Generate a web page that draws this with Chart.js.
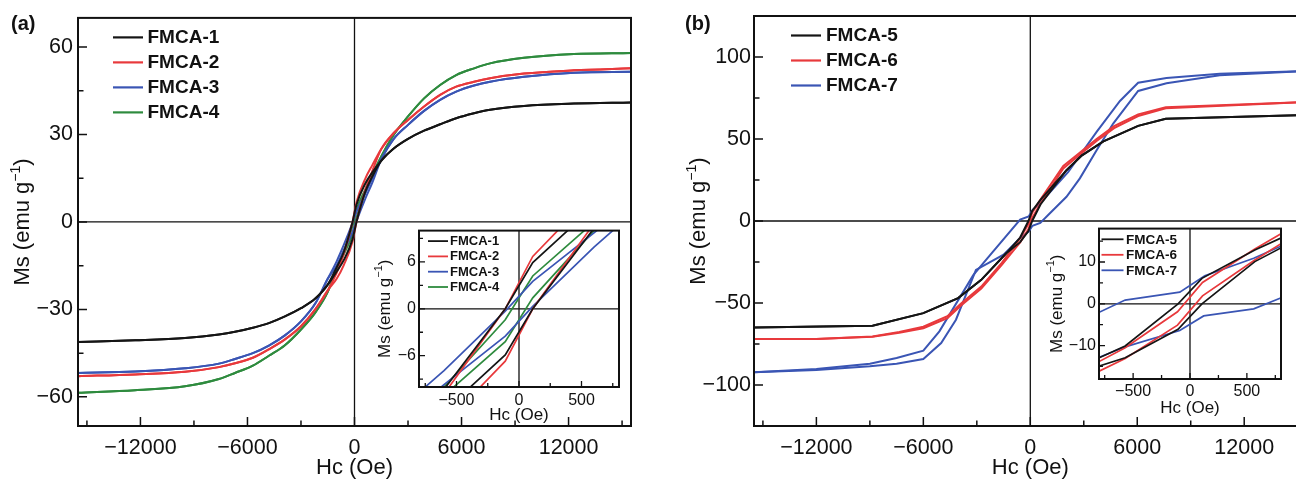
<!DOCTYPE html>
<html>
<head>
<meta charset="utf-8">
<title>Magnetic hysteresis loops of FMCA samples</title>
<script src="https://cdn.jsdelivr.net/npm/chart.js@4.4.1/dist/chart.umd.min.js"></script>
<style>
  html, body { margin: 0; padding: 0; background: #fff; width: 1296px; height: 482px; overflow: hidden; }
  canvas { position: absolute; }
</style>
</head>
<body>
<canvas id="mainA" width="648" height="482" style="left:0;top:0"></canvas>
<canvas id="mainB" width="670" height="482" style="left:648px;top:0"></canvas>
<canvas id="insetA" width="270" height="215" style="left:360px;top:218px"></canvas>
<canvas id="insetB" width="256" height="215" style="left:1040px;top:216px"></canvas>
<script>
// ---------- Panel (a): FMCA-1 … FMCA-4 (field in Oe, magnetisation in emu/g) ----------
const namesA = ['FMCA-1', 'FMCA-2', 'FMCA-3', 'FMCA-4'];
const fieldA = [-15500, -12300, -9500, -7600, -6700, -5700, -4800, -3900, -3000, -2200, -1500, -1000, -600, -110,
                110, 600, 1000, 1500, 2200, 3000, 3900, 4800, 5700, 6700, 7600, 9500, 12300, 15500];

// descending-field branch (upper) and ascending-field branch (lower) of each loop
const fmca1Desc = [-41.2, -40.6, -39.8, -38.6, -37.7, -36.3, -34.7, -32.4, -29.6, -26.3, -21.5, -15.6, -10.3, 0.0,
                   5.9, 13.1, 17.0, 21.0, 25.2, 28.5, 31.3, 33.5, 35.6, 37.3, 38.5, 39.8, 40.6, 41.0];
const fmca1Asc  = [-41.2, -40.6, -39.8, -38.6, -37.7, -36.3, -34.7, -32.4, -29.6, -26.3, -21.5, -17.0, -13.1, -5.9,
                   0.0, 10.3, 15.6, 21.0, 25.2, 28.5, 31.3, 33.5, 35.6, 37.3, 38.5, 39.8, 40.6, 41.0];
const fmca2Desc = [-52.9, -52.3, -51.4, -49.8, -48.5, -46.6, -43.7, -40.3, -35.8, -30.0, -23.5, -17.5, -10.9, 0.0,
                   6.7, 14.8, 19.5, 25.0, 30.5, 35.0, 39.6, 43.6, 46.4, 48.1, 49.3, 50.9, 52.0, 52.7];
const fmca2Asc  = [-52.9, -52.3, -51.4, -49.8, -48.5, -46.6, -43.7, -40.3, -35.8, -30.0, -23.5, -19.5, -14.8, -6.7,
                   0.0, 10.9, 17.5, 25.0, 30.5, 35.0, 39.6, 43.6, 46.4, 48.1, 49.3, 50.9, 52.0, 52.7];
const fmca3Desc = [-51.8, -51.3, -50.2, -48.6, -47.0, -45.0, -42.4, -38.9, -34.1, -28.0, -19.5, -13.5, -7.9, -0.3,
                   3.5, 9.7, 15.0, 21.5, 28.5, 33.3, 38.1, 41.9, 44.7, 46.8, 48.1, 49.8, 51.2, 51.5];
const fmca3Asc  = [-51.8, -51.3, -50.2, -48.6, -47.0, -45.0, -42.4, -38.9, -34.1, -28.0, -19.5, -15.0, -9.7, -3.5,
                   0.3, 7.9, 13.5, 21.5, 28.5, 33.3, 38.1, 41.9, 44.7, 46.8, 48.1, 49.8, 51.2, 51.5];
const fmca4Desc = [-58.6, -57.7, -56.4, -53.9, -51.8, -49.3, -45.9, -42.3, -36.9, -31.1, -24.0, -15.5, -10.0, -1.4,
                   4.2, 11.1, 16.5, 22.5, 29.9, 36.2, 42.4, 47.0, 50.4, 52.7, 54.4, 56.3, 57.6, 58.0];
const fmca4Asc  = [-58.6, -57.7, -56.4, -53.9, -51.8, -49.3, -45.9, -42.3, -36.9, -31.1, -24.0, -16.5, -11.1, -4.2,
                   1.4, 10.0, 15.5, 22.5, 29.9, 36.2, 42.4, 47.0, 50.4, 52.7, 54.4, 56.3, 57.6, 58.0];

// ---------- Panel (b): FMCA-5 … FMCA-7 ----------
const namesB = ['FMCA-5', 'FMCA-6', 'FMCA-7'];
const fmca5Field = [-15500, -8850, -6000, -4050, -2750, -1350, -570, -105, 105, 570, 2030, 2900, 4100, 6050, 7600, 15500];
const fmca5Desc  = [-65.0, -63.9, -56.2, -47.0, -35.9, -19.7, -10.1, 0.0, 6.1, 12.9, 31.0, 40.0, 48.5, 58.0, 62.4, 64.6];
const fmca5Asc   = [-65.0, -63.9, -56.2, -47.0, -35.9, -19.7, -12.9, -6.1, 0.0, 10.1, 31.0, 40.0, 48.5, 58.0, 62.4, 64.6];

const fmca6Field = [-15500, -12000, -8850, -7350, -6000, -4650, -3900, -2750, -1600, -570, -110, 110, 570, 1850,
                    2650, 3700, 4700, 6050, 7600, 15500];
const fmca6Desc  = [-72.0, -72.0, -70.4, -67.6, -64.5, -58.0, -50.5, -40.0, -25.5, -10.5, -1.9, 5.1, 13.1, 33.5,
                    40.5, 49.8, 57.8, 65.0, 69.3, 72.6];
const fmca6Asc   = [-72.0, -72.0, -70.6, -68.2, -65.4, -59.2, -51.7, -41.2, -26.7, -13.1, -5.1, 1.9, 10.5, 32.0,
                    39.3, 48.6, 56.6, 64.0, 68.7, 72.6];

const fmca7DescField = [-15500, -12000, -9000, -7500, -6000, -5100, -3200, -2400, -570, -90, 130, 560, 2130, 3720,
                        5030, 6050, 7640, 10630, 15500];
const fmca7Desc      = [-92.3, -90.3, -87.0, -83.5, -79.1, -67.3, -33.0, -22.7, 0.9, 2.8, 6.7, 10.9, 30.0, 54.3,
                        73.2, 84.3, 87.2, 89.8, 91.4];
const fmca7AscField  = [-15500, -12000, -9000, -7500, -6000, -5000, -4170, -3050, -1500, -570, -90, 120, 560, 1100,
                        2030, 2780, 3720, 4650, 6050, 7640, 10630, 15500];
const fmca7Asc       = [-92.3, -90.8, -88.6, -87.0, -84.2, -74.4, -60.2, -29.8, -20.5, -10.3, -6.4, -2.9, -1.2, 4.7,
                        14.8, 26.0, 43.2, 59.4, 79.3, 84.0, 88.8, 91.4];

// ---------- axis ticks ----------
const mainFieldTicks  = [-12000, -6000, 0, 6000, 12000];
const mainFieldMinor  = [-15000, -9000, -3000, 3000, 9000, 15000];
const panelAMsTicks   = [-60, -30, 0, 30, 60];
const panelAMsMinor   = [-45, -15, 15, 45];
const panelBMsTicks   = [-100, -50, 0, 50, 100];
const panelBMsMinor   = [-125, -75, -25, 25, 75, 125];
const insetFieldTicks = [-500, 0, 500];
const insetFieldMinor = [-750, -250, 250, 750];
const insetAMsTicks   = [-6, 0, 6];
const insetAMsMinor   = [-9, -3, 3, 9];
const insetBMsTicks   = [-10, 0, 10];
const insetBMsMinor   = [-15, -5, 5, 15];

// ---------- styling ----------
const INK = '#111111';
const FONT = '"Liberation Sans", Arial, Helvetica, sans-serif';
const coloursA = ['#151515', '#e8393c', '#3a55b4', '#2e8b3e'];
const coloursB = ['#151515', '#e8393c', '#3a55b4'];

Chart.defaults.font.family = FONT;
Chart.defaults.color = INK;

const pairs = (field, values) => field.map((h, i) => ({ x: h, y: values[i] }));
const signed = v => (v < 0 ? '\u2212' + Math.abs(v) : String(v));

function loopDatasets(names, colours, branches, width, smooth) {
  const sets = [];
  branches.forEach((b, i) => {
    [b[0], b[1]].forEach(data => {
      sets.push({
        label: names[i],
        data: data,
        showLine: true,
        borderColor: colours[i],
        backgroundColor: colours[i],
        borderWidth: width,
        pointRadius: 0,
        fill: false,
        tension: smooth ? 0.4 : 0,
        cubicInterpolationMode: smooth ? 'monotone' : 'default'
      });
    });
  });
  return sets;
}

function drawYTitle(ctx, cx, cy, size) {
  const head = 'Ms (emu g', sup = '\u22121', tail = ')';
  const supSize = size * 0.64;
  ctx.save();
  ctx.font = size + 'px ' + FONT;
  const w1 = ctx.measureText(head).width;
  const w3 = ctx.measureText(tail).width;
  ctx.font = supSize + 'px ' + FONT;
  const w2 = ctx.measureText(sup).width;
  const total = w1 + w2 + w3;
  ctx.translate(cx, cy);
  ctx.rotate(-Math.PI / 2);
  ctx.fillStyle = INK;
  ctx.textAlign = 'left';
  ctx.textBaseline = 'alphabetic';
  const base = 0.36 * size;
  let x = -total / 2;
  ctx.font = size + 'px ' + FONT;
  ctx.fillText(head, x, base);
  x += w1;
  ctx.font = supSize + 'px ' + FONT;
  ctx.fillText(sup, x, base - 0.42 * size);
  x += w2;
  ctx.font = size + 'px ' + FONT;
  ctx.fillText(tail, x, base);
  ctx.restore();
}

// frame, zero lines, inward ticks, axis titles, legend and panel tag
function decorations(spec) {
  return {
    id: 'decor_' + spec.key,
    beforeDatasetsDraw(chart) {
      const { ctx, chartArea: a, scales: { x, y } } = chart;
      ctx.save();
      if (spec.whiteArea) {
        ctx.fillStyle = '#ffffff';
        ctx.fillRect(a.left, a.top, a.right - a.left, a.bottom - a.top);
      }
      ctx.strokeStyle = INK;
      ctx.lineWidth = spec.zeroWidth;
      const x0 = x.getPixelForValue(0), y0 = y.getPixelForValue(0);
      ctx.beginPath();
      ctx.moveTo(x0, a.top); ctx.lineTo(x0, a.bottom);
      ctx.moveTo(a.left, y0); ctx.lineTo(a.right, y0);
      ctx.stroke();
      ctx.restore();
    },
    afterDatasetsDraw(chart) {
      const { ctx, chartArea: a, scales: { x, y } } = chart;
      ctx.save();
      ctx.strokeStyle = INK;
      ctx.lineWidth = spec.tickWidth;
      ctx.beginPath();
      spec.xMajor.forEach(v => { const p = x.getPixelForValue(v); ctx.moveTo(p, a.bottom); ctx.lineTo(p, a.bottom - spec.majorLen); });
      spec.xMinor.forEach(v => { const p = x.getPixelForValue(v); ctx.moveTo(p, a.bottom); ctx.lineTo(p, a.bottom - spec.minorLen); });
      spec.yMajor.forEach(v => { const p = y.getPixelForValue(v); ctx.moveTo(a.left, p); ctx.lineTo(a.left + spec.majorLen, p); });
      spec.yMinor.forEach(v => { const p = y.getPixelForValue(v); ctx.moveTo(a.left, p); ctx.lineTo(a.left + spec.minorLen, p); });
      ctx.stroke();
      ctx.lineWidth = spec.frameWidth;
      ctx.strokeRect(a.left, a.top, a.right - a.left, a.bottom - a.top);

      // axis titles
      ctx.fillStyle = INK;
      ctx.font = spec.titleSize + 'px ' + FONT;
      ctx.textAlign = 'center';
      ctx.textBaseline = 'middle';
      ctx.fillText('Hc (Oe)', (a.left + a.right) / 2, spec.xTitleY);
      drawYTitle(ctx, a.left - spec.yTitleOffset, (a.top + a.bottom) / 2, spec.titleSize);

      // legend
      const lg = spec.legend;
      ctx.font = 'bold ' + lg.size + 'px ' + FONT;
      ctx.textAlign = 'left';
      lg.names.forEach((n, i) => {
        const yy = a.top + lg.top + i * lg.step;
        ctx.strokeStyle = lg.colours[i];
        ctx.lineWidth = lg.lineWidth;
        ctx.beginPath();
        ctx.moveTo(a.left + lg.x0, yy);
        ctx.lineTo(a.left + lg.x1, yy);
        ctx.stroke();
        ctx.fillStyle = INK;
        ctx.fillText(n, a.left + lg.tx, yy + 0.5);
      });

      if (spec.tag) {
        ctx.font = 'bold 20px ' + FONT;
        ctx.textBaseline = 'alphabetic';
        ctx.fillStyle = INK;
        ctx.fillText(spec.tag.text, spec.tag.x, spec.tag.y);
      }
      ctx.restore();
    }
  };
}

function makeChart(id, cfg) {
  const fix = (values) => (scale) => { scale.ticks = values.map(v => ({ value: v })); };
  return new Chart(document.getElementById(id), {
    type: 'scatter',
    data: { datasets: cfg.datasets },
    options: {
      responsive: false,
      animation: false,
      events: [],
      layout: { autoPadding: false, padding: cfg.padding },
      plugins: { legend: { display: false }, tooltip: { enabled: false } },
      scales: {
        x: {
          type: 'linear', min: cfg.xMin, max: cfg.xMax,
          afterBuildTicks: fix(cfg.xTicks),
          afterFit: (s) => { s.height = cfg.xHeight; },
          grid: { display: false, drawTicks: false },
          border: { display: false },
          ticks: { autoSkip: false, maxRotation: 0, padding: cfg.xPad, font: { size: cfg.tickSize }, color: INK, callback: signed }
        },
        y: {
          type: 'linear', min: cfg.yMin, max: cfg.yMax,
          afterBuildTicks: fix(cfg.yTicks),
          afterFit: (s) => { s.width = cfg.yWidth; },
          grid: { display: false, drawTicks: false },
          border: { display: false },
          ticks: { autoSkip: false, padding: cfg.yPad, font: { size: cfg.tickSize }, color: INK, callback: signed }
        }
      }
    },
    plugins: [decorations(cfg.decor)]
  });
}

const branchesA = () => [
  [pairs(fieldA, fmca1Desc), pairs(fieldA, fmca1Asc)],
  [pairs(fieldA, fmca2Desc), pairs(fieldA, fmca2Asc)],
  [pairs(fieldA, fmca3Desc), pairs(fieldA, fmca3Asc)],
  [pairs(fieldA, fmca4Desc), pairs(fieldA, fmca4Asc)]
];
const branchesB = () => [
  [pairs(fmca5Field, fmca5Desc), pairs(fmca5Field, fmca5Asc)],
  [pairs(fmca6Field, fmca6Desc), pairs(fmca6Field, fmca6Asc)],
  [pairs(fmca7DescField, fmca7Desc), pairs(fmca7AscField, fmca7Asc)]
];

// (a) main panel
makeChart('mainA', {
  datasets: loopDatasets(namesA, coloursA, branchesA(), 2, true),
  padding: { left: 0, right: 17, top: 16, bottom: 0 },
  xMin: -15500, xMax: 15500, yMin: -70, yMax: 70,
  xTicks: mainFieldTicks, yTicks: panelAMsTicks,
  xHeight: 56, yWidth: 78, xPad: 9, yPad: 5, tickSize: 21.5,
  decor: {
    key: 'mainA', zeroWidth: 1.3, tickWidth: 1.5, frameWidth: 2, majorLen: 9, minorLen: 5.5,
    xMajor: mainFieldTicks, xMinor: mainFieldMinor, yMajor: panelAMsTicks, yMinor: panelAMsMinor,
    titleSize: 22, xTitleY: 468, yTitleOffset: 56.5,
    legend: { names: namesA, colours: coloursA, size: 19, top: 19.5, step: 25, x0: 35, x1: 65, tx: 69.5, lineWidth: 2.2 },
    tag: { text: '(a)', x: 11, y: 30 }
  }
});

// (b) main panel
makeChart('mainB', {
  datasets: loopDatasets(namesB, coloursB, branchesB(), 2, false),
  padding: { left: 0, right: 11.4, top: 16, bottom: 0 },
  xMin: -15500, xMax: 15500, yMin: -125, yMax: 125,
  xTicks: mainFieldTicks, yTicks: panelBMsTicks,
  xHeight: 56, yWidth: 106, xPad: 9, yPad: 3, tickSize: 21.5,
  decor: {
    key: 'mainB', zeroWidth: 1.3, tickWidth: 1.5, frameWidth: 2, majorLen: 9, minorLen: 5.5,
    xMajor: mainFieldTicks, xMinor: mainFieldMinor, yMajor: panelBMsTicks, yMinor: panelBMsMinor,
    titleSize: 22, xTitleY: 468, yTitleOffset: 57,
    legend: { names: namesB, colours: coloursB, size: 19, top: 19.5, step: 25, x0: 37, x1: 67, tx: 72, lineWidth: 2.2 },
    tag: { text: '(b)', x: 37, y: 30 }
  }
});

// (a) inset: low-field region of the loops
makeChart('insetA', {
  datasets: loopDatasets(namesA, coloursA, branchesA(), 1.7, false),
  padding: { left: 0, right: 11, top: 9, bottom: 0 },
  xMin: -800, xMax: 800, yMin: -10, yMax: 10,
  xTicks: insetFieldTicks, yTicks: insetAMsTicks,
  xHeight: 46, yWidth: 59, xPad: 4, yPad: 3, tickSize: 16,
  decor: {
    key: 'insetA', whiteArea: true, zeroWidth: 1.3, tickWidth: 1.3, frameWidth: 2, majorLen: 6, minorLen: 4,
    xMajor: insetFieldTicks, xMinor: insetFieldMinor, yMajor: insetAMsTicks, yMinor: insetAMsMinor,
    titleSize: 17, xTitleY: 197, yTitleOffset: 35.5,
    legend: { names: namesA, colours: coloursA, size: 13, top: 10.5, step: 15.3, x0: 9, x1: 29, tx: 31, lineWidth: 1.8 }
  }
});

// (b) inset: low-field region of the loops
makeChart('insetB', {
  datasets: loopDatasets(namesB, coloursB, branchesB(), 1.7, false),
  padding: { left: 0, right: 15, top: 9, bottom: 0 },
  xMin: -800, xMax: 800, yMin: -18, yMax: 18,
  xTicks: insetFieldTicks, yTicks: insetBMsTicks,
  xHeight: 52, yWidth: 59, xPad: 3, yPad: 3, tickSize: 16,
  decor: {
    key: 'insetB', whiteArea: true, zeroWidth: 1.3, tickWidth: 1.3, frameWidth: 2, majorLen: 6, minorLen: 4,
    xMajor: insetFieldTicks, xMinor: insetFieldMinor, yMajor: insetBMsTicks, yMinor: insetBMsMinor,
    titleSize: 17, xTitleY: 192.5, yTitleOffset: 43.5,
    legend: { names: namesB, colours: coloursB, size: 13.5, top: 10.7, step: 15.5, x0: 2.5, x1: 24.5, tx: 27, lineWidth: 1.8 }
  }
});
</script>
</body>
</html>
